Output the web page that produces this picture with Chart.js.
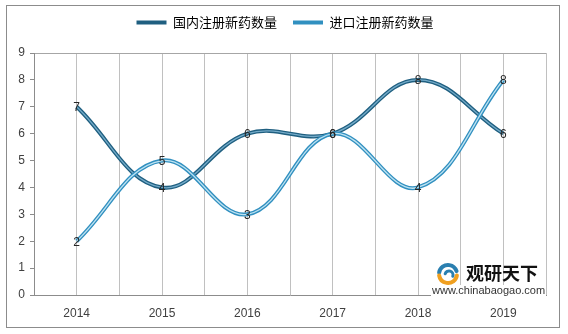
<!DOCTYPE html>
<html>
<head>
<meta charset="utf-8">
<script src="https://cdn.jsdelivr.net/npm/chart.js@4/dist/chart.umd.min.js"></script>
<style>
  html, body { margin: 0; padding: 0; background: #fff; }
  #wrap { position: relative; width: 568px; height: 334px; }
</style>
</head>
<body>
<div id="wrap"><canvas id="c" width="568" height="334"></canvas></div>
<script>
// data
const years = ['2014', '2015', '2016', '2017', '2018', '2019'];
const domestic = [7, 4, 6, 6, 8, 6];
const imported = [2, 5, 3, 6, 4, 8];
const seriesNames = ['国内注册新药数量', '进口注册新药数量'];
const yTicks = [0, 1, 2, 3, 4, 5, 6, 7, 8, 9];

const toPoints = arr => arr.map((v, i) => ({ x: i, y: v }));
const cjk = '"Noto Sans CJK SC", "Noto Sans", sans-serif';
const latin = '"Liberation Sans", Arial, sans-serif';

// outer border of the chart box + watermark
const frame = {
  id: 'frame',
  beforeDraw(chart) {
    const ctx = chart.ctx;
    ctx.save();
    ctx.fillStyle = '#fff';
    ctx.fillRect(0, 0, chart.width, chart.height);
    ctx.strokeStyle = '#8c8c8c';
    ctx.lineWidth = 1;
    ctx.strokeRect(6.5, 5.5, 553, 322);
    ctx.restore();
  },
  afterDraw(chart) {
    const ctx = chart.ctx;
    ctx.save();
    // url strip
    ctx.fillStyle = '#fff';
    ctx.fillRect(431, 285, 115, 11);
    ctx.font = '11px ' + latin;
    ctx.fillStyle = '#333';
    ctx.textBaseline = 'middle';
    ctx.fillText('www.chinabaogao.com', 432, 291);
    // logo swirl
    ctx.lineCap = 'round';
    ctx.strokeStyle = '#2a7fb0';
    ctx.lineWidth = 4;
    ctx.beginPath();
    ctx.arc(448, 274, 9, Math.PI * 1.05, Math.PI * 1.9);
    ctx.stroke();
    ctx.lineWidth = 3;
    ctx.beginPath();
    ctx.arc(449, 275, 4, Math.PI * 1.1, Math.PI * 2.1);
    ctx.stroke();
    ctx.strokeStyle = '#f0a020';
    ctx.lineWidth = 4;
    ctx.beginPath();
    ctx.arc(448, 274, 9, Math.PI * 0.05, Math.PI * 0.95);
    ctx.stroke();
    // brand name
    ctx.font = 'bold 18px ' + cjk;
    ctx.fillStyle = '#111';
    ctx.fillText('观研天下', 466, 273);
    ctx.restore();
  }
};

// value labels on the points
const valueLabels = {
  id: 'valueLabels',
  afterDatasetsDraw(chart) {
    const ctx = chart.ctx;
    ctx.save();
    ctx.font = '12px ' + latin;
    ctx.fillStyle = '#262626';
    ctx.textAlign = 'center';
    ctx.textBaseline = 'middle';
    [0, 2].forEach(di => {
      const meta = chart.getDatasetMeta(di);
      const src = chart.data.datasets[di].data;
      meta.data.forEach((pt, i) => {
        ctx.fillText(String(src[i].y), pt.x, pt.y + 1);
      });
    });
    ctx.restore();
  }
};

// push plot area down below the legend, and nudge the legend right
const legendGap = {
  id: 'legendGap',
  beforeInit(chart) {
    const fit = chart.legend.fit;
    chart.legend.fit = function () {
      fit.bind(chart.legend)();
      this.height += 14;
    };
  },
  afterLayout(chart) {
    chart.legend.left += 9;
    chart.legend.right += 9;
  }
};

const line = (data, color, width, label, order) => ({
  label,
  data,
  order,
  borderColor: color,
  backgroundColor: color,
  borderWidth: width,
  tension: 0.4,
  pointRadius: 0,
  fill: false
});

new Chart(document.getElementById('c'), {
  type: 'line',
  data: {
    datasets: [
      line(toPoints(domestic), '#1f5f80', 4, seriesNames[0], 3),
      line(toPoints(domestic), '#74abc9', 1.3, '', 2),
      line(toPoints(imported), '#3190c0', 4, seriesNames[1], 1),
      line(toPoints(imported), '#bfe3f2', 1.3, '', 0)
    ]
  },
  options: {
    responsive: false,
    animation: false,
    layout: { padding: { top: 0, left: 6, right: 22, bottom: 9 } },
    plugins: {
      tooltip: { enabled: false },
      legend: {
        position: 'top',
        labels: {
          usePointStyle: true,
          pointStyle: 'line',
          pointStyleWidth: 30,
          padding: 16,
          color: '#404040',
          font: { family: cjk, size: 13 },
          generateLabels(chart) {
            return chart.data.datasets
              .map((ds, i) => ({
                text: ds.label,
                strokeStyle: ds.borderColor,
                fillStyle: ds.borderColor,
                lineWidth: 4,
                pointStyle: 'line',
                datasetIndex: i,
                hidden: false
              }))
              .filter(item => item.text !== '');
          }
        }
      }
    },
    scales: {
      x: {
        type: 'linear',
        min: -0.5,
        max: 5.5,
        afterFit: s => { s.height = 30; },
        afterBuildTicks: s => {
          const t = [];
          for (let v = -0.5; v <= 5.5001; v += 0.5) t.push({ value: v });
          s.ticks = t;
        },
        border: { color: '#8c8c8c' },
        grid: { color: '#c0c0c0', drawTicks: false },
        ticks: {
          padding: 11,
          autoSkip: false,
          maxRotation: 0,
          color: '#404040',
          font: { family: latin, size: 12 },
          callback: v => Number.isInteger(v) ? years[v] : ''
        }
      },
      y: {
        min: 0,
        max: 9,
        afterFit: s => { s.width = 28; },
        afterBuildTicks: s => { s.ticks = yTicks.map(v => ({ value: v })); },
        border: { color: '#8c8c8c' },
        grid: {
          color: c => c.tick && c.tick.value === 9 ? '#a6a6a6' : 'rgba(0,0,0,0)',
          tickColor: '#8c8c8c',
          tickLength: 4
        },
        ticks: {
          padding: 5,
          color: '#404040',
          font: { family: latin, size: 12 }
        }
      }
    }
  },
  plugins: [frame, legendGap, valueLabels]
});
</script>
</body>
</html>
